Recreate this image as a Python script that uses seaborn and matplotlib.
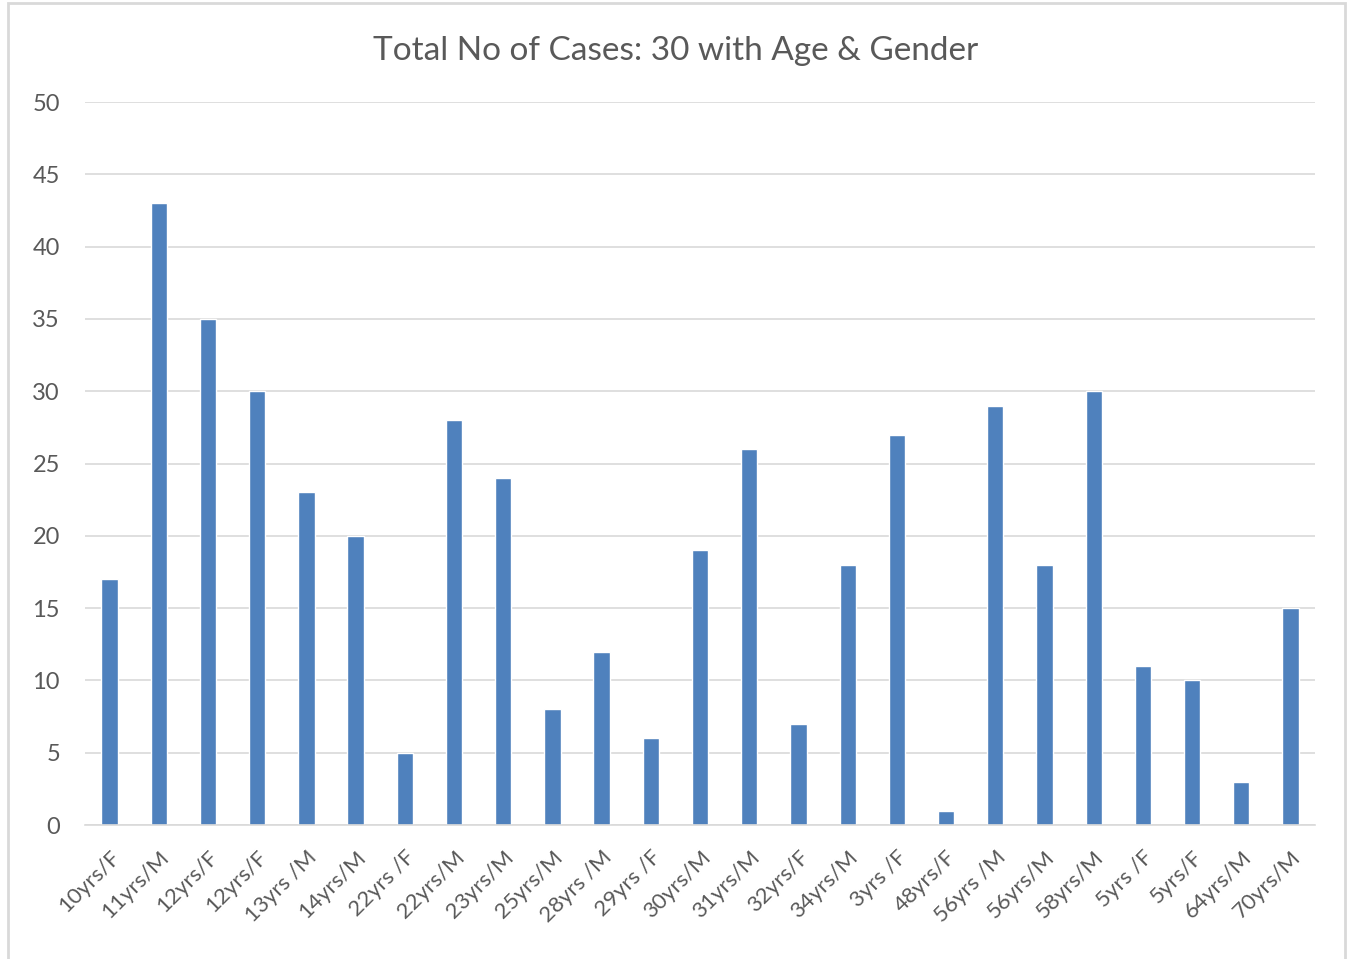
import numpy as np
import pandas as pd
import seaborn as sns
from matplotlib import pyplot as plt
from matplotlib.patches import Rectangle

# Datos del gráfico
labels = ['10yrs/F', '11yrs/M', '12yrs/F', '12yrs/F', '13yrs /M', '14yrs/M', '22yrs /F',
          '22yrs/M', '23yrs/M', '25yrs/M', '28yrs /M', '29yrs /F', '30yrs/M', '31yrs/M',
          '32yrs/F', '34yrs/M', '3yrs /F', '48yrs/F', '56yrs /M', '56yrs/M', '58yrs/M',
          '5yrs /F', '5yrs/F', '64yrs/M', '70yrs/M']
values = [17, 43, 35, 30, 23, 20, 5, 28, 24, 8, 12, 6, 19, 26, 7, 18, 27, 1, 29, 18, 30,
          11, 10, 3, 15]

df = pd.DataFrame({'pos': range(len(labels)), 'label': labels, 'casos': values})

sns.set_style('white')
plt.rcParams['font.family'] = ['Lato', 'DejaVu Sans']

fig = plt.figure(figsize=(13.51, 9.59), dpi=100)
ax = fig.add_axes([0.0629, 0.1397, 0.9105, 0.7539])

sns.barplot(data=df, x='pos', y='casos', color='#4F81BD', saturation=1, width=0.33, ax=ax)

ax.set_ylim(0, 50)
ax.set_xlim(-0.5, len(labels) - 0.5)
ax.set_yticks(range(0, 51, 5))
ax.set_xticks(range(len(labels)))
ax.set_xticklabels(labels, rotation=45, ha='right', rotation_mode='anchor')
ax.tick_params(axis='both', colors='#595959', labelsize=17, length=0)
ax.tick_params(axis='x', labelsize=16, pad=16)
ax.tick_params(axis='y', pad=18)
ax.yaxis.grid(True, color='#D9D9D9', linewidth=1.2)
ax.set_axisbelow(True)
for side in ['top', 'right', 'left']:
    ax.spines[side].set_visible(False)
ax.spines['bottom'].set_color('#D9D9D9')
ax.spines['bottom'].set_linewidth(1.2)
ax.set_xlabel('')
ax.set_ylabel('')

fig.text(0.5, 0.947, 'Total No of Cases: 30 with Age & Gender', ha='center', va='center',
         fontsize=24, color='#595959')

# Borde del área del gráfico
fig.patches.append(Rectangle((8 / 1351, -0.01), 1337 / 1351, 1.01 - 3 / 959, transform=fig.transFigure,
                             fill=False, edgecolor='#D9D9D9', linewidth=2))

plt.savefig('out.png', dpi=100)
